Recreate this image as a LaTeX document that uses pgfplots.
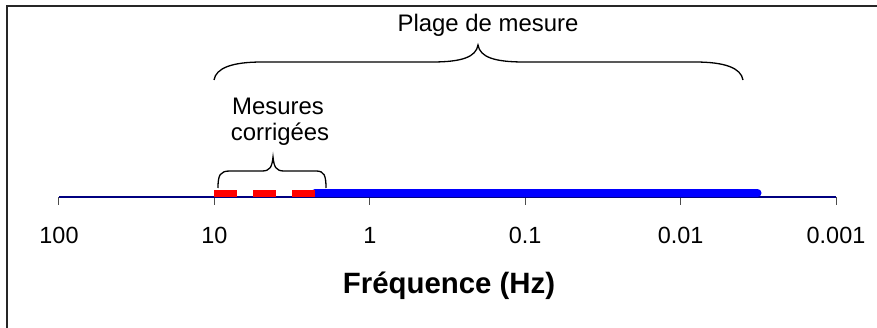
\documentclass[border=0pt]{standalone}
\usepackage{fontspec}
\setmainfont{Liberation Sans}
\usepackage{pgfplots}
\pgfplotsset{compat=1.18}
\definecolor{navyax}{RGB}{0,0,128}
\begin{document}
\begin{tikzpicture}[x=1bp,y=1bp]
\useasboundingbox (0,0) rectangle (877,327);
\clip (0,0) rectangle (877,327);
\draw[line width=2bp, black!85] (6.5,-20) -- (6.5,321.3) -- (900,321.3);
\begin{axis}[
  at={(59bp,130.5bp)}, anchor=south west,
  scale only axis, width=777bp, height=190bp,
  xmode=log, x dir=reverse,
  xmin=0.001, xmax=100, ymin=0, ymax=190,
  axis x line*=bottom, axis y line=none,
  axis line style={navyax, line width=2bp},
  xtick={100,10,1,0.1,0.01,0.001},
  xticklabels={100,10,1,0.1,0.01,0.001},
  minor xtick={},
  tick align=outside,
  major tick length=8bp,
  x tick style={black!70, line width=1bp},
  xticklabel style={font=\fontsize{23.5}{27}\selectfont, yshift=-19bp},
  clip=false,
]
\addplot[blue, line width=8bp, line cap=round] coordinates {(2.25,3.5) (0.0032,3.5)};
\addplot[red, line width=7bp, dash pattern=on 23bp off 16bp] coordinates {(10,3.5) (2.25,3.5)};
\end{axis}
\draw[line width=1.3bp] (214,247) .. controls (216,259) and (232,265) .. (262,265) -- (432,265)
  .. controls (462,265) and (476,270) .. (478,282)
  .. controls (480,270) and (494,265) .. (524,265) -- (695,265)
  .. controls (725,265) and (741,259) .. (743,247);
\draw[line width=1.3bp] (218,139) .. controls (218,152) and (220,156) .. (230,156) -- (262,156)
  .. controls (270,156) and (272,160) .. (273,170)
  .. controls (274,160) and (276,156) .. (284,156) -- (316,156)
  .. controls (324,156) and (326,152) .. (326,139);
\node[anchor=base, inner sep=0pt, font=\fontsize{24}{27}\selectfont] at (488,296) {Plage de mesure};
\node[anchor=base, inner sep=0pt, font=\fontsize{24}{27}\selectfont] at (278,213) {Mesures};
\node[anchor=base, inner sep=0pt, font=\fontsize{24}{27}\selectfont] at (280,187) {corrigées};
\node[anchor=base, inner sep=0pt, font=\bfseries\fontsize{29.5}{32}\selectfont] at (449,34) {Fréquence (Hz)};
\end{tikzpicture}
\end{document}
